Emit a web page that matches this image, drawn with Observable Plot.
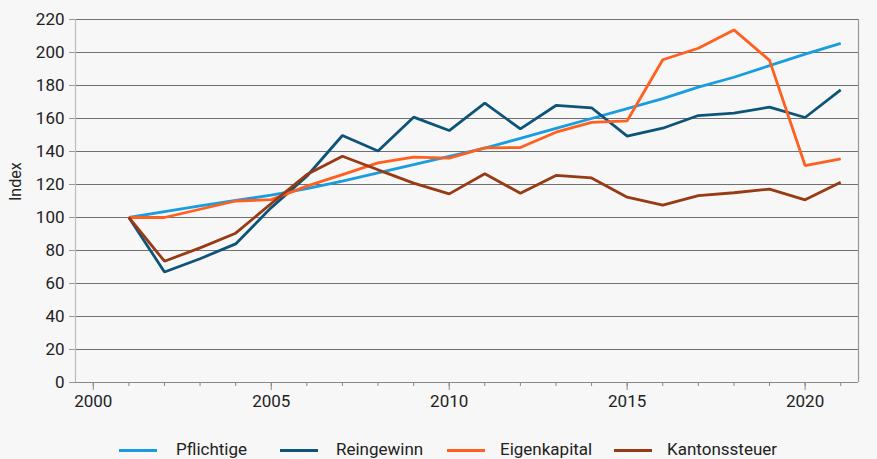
<!DOCTYPE html>
<html>
<head>
<meta charset="utf-8">
<script src="https://cdn.jsdelivr.net/npm/d3@7"></script>
<script src="https://cdn.jsdelivr.net/npm/@observablehq/plot@0.6"></script>
<style>
  html, body { margin: 0; padding: 0; background: #f7f7f7; }
  body { width: 877px; height: 459px; overflow: hidden; position: relative; font-family: Roboto, "Noto Sans", sans-serif; }
  #legend { position: absolute; left: 0; top: 441px; width: 877px; height: 17px; font-size: 17px; color: #222; line-height: 17px; white-space: nowrap; }
  .sw { position: absolute; top: 8px; width: 38px; height: 3px; }
  .lab { position: absolute; top: 0; }
</style>
</head>
<body>
<div id="chart"></div>
<div id="legend"></div>
<script>
const years = d3.range(2001, 2022);
const seriesNames = ["Pflichtige", "Reingewinn", "Eigenkapital", "Kantonssteuer"];
const colors = ["#1a9de0", "#0d5478", "#ff5f1f", "#983a14"];
const pflichtige   = [100, 103.5, 107, 110.3, 113.5, 117.5, 122, 127, 132, 137, 142, 148, 154, 160, 166, 172, 179, 185, 192, 199, 205.5];
const reingewinn   = [100, 67, 75, 84, 106, 125, 149.7, 140.3, 160.8, 152.7, 169.3, 153.7, 167.9, 166.5, 149.3, 154.1, 161.8, 163.2, 166.9, 160.6, 177.4];
const eigenkapital = [100, 100, 105, 110, 110.8, 119, 126, 133.1, 136.6, 136, 142.2, 142.4, 151.7, 157.6, 158.6, 195.6, 202.6, 213.7, 195.2, 131.5, 135.5];
const kantonssteuer= [100, 73.5, 81.6, 90.5, 108.5, 126, 137.1, 128.9, 120.8, 114.3, 126.5, 114.7, 125.5, 124, 112.3, 107.5, 113.3, 115, 117.2, 110.7, 121.4];
const yTicks = d3.range(0, 221, 20);
const xTickLabels = [2000, 2005, 2010, 2015, 2020];
const xMinorTicks = d3.range(2000, 2022);

const allSeries = [pflichtige, reingewinn, eigenkapital, kantonssteuer];
const data = [];
allSeries.forEach((vals, i) => vals.forEach((v, j) => data.push({year: years[j], value: v, series: seriesNames[i]})));

const chart = Plot.plot({
  width: 877,
  height: 420,
  marginTop: 19,
  marginBottom: 38,
  marginLeft: 75,
  marginRight: 19,
  style: {background: "#f7f7f7", fontFamily: "Roboto, sans-serif", fontSize: "17px", color: "#222"},
  x: {domain: [1999.5, 2021.5], axis: null},
  y: {domain: [0, 220], axis: null},
  color: {domain: seriesNames, range: colors},
  marks: [
    Plot.ruleY(yTicks.filter(d => d > 0), {stroke: "#6f6f6f", strokeWidth: 1.2}),
    Plot.ruleX([1999.5], {stroke: "#bdbdbd", strokeWidth: 1.2}),
    Plot.ruleX([2021.5], {stroke: "#999", strokeWidth: 1.2}),
    Plot.ruleY([0], {stroke: "#888", strokeWidth: 1.2}),
    Plot.axisY({ticks: yTicks, tickSize: 6, tickPadding: 5, stroke: "#999", fontSize: 17, label: null}),
    Plot.axisX({ticks: xMinorTicks, tickSize: 4, tickFormat: () => "", stroke: "#888", label: null}),
    Plot.axisX({ticks: xTickLabels, tickSize: 8, tickPadding: 4, tickFormat: d => String(d), stroke: "#888", fontSize: 17, label: null}),
    Plot.text(["Index"], {frameAnchor: "left", dx: -60, rotate: -90, fontSize: 16, fill: "#222"}),
    Plot.line(data, {x: "year", y: "value", z: "series", stroke: "series", strokeWidth: 2.8, strokeLinejoin: "miter", strokeLinecap: "butt"})
  ]
});
document.getElementById("chart").appendChild(chart);

const swatchX = [119, 280, 447, 614];
const labelX = [176, 336, 500, 667];
const legend = document.getElementById("legend");
seriesNames.forEach((name, i) => {
  const sw = document.createElement("div");
  sw.className = "sw";
  sw.style.background = colors[i];
  sw.style.left = swatchX[i] + "px";
  const label = document.createElement("span");
  label.className = "lab";
  label.textContent = name;
  label.style.left = labelX[i] + "px";
  legend.appendChild(sw);
  legend.appendChild(label);
});
</script>
</body>
</html>
